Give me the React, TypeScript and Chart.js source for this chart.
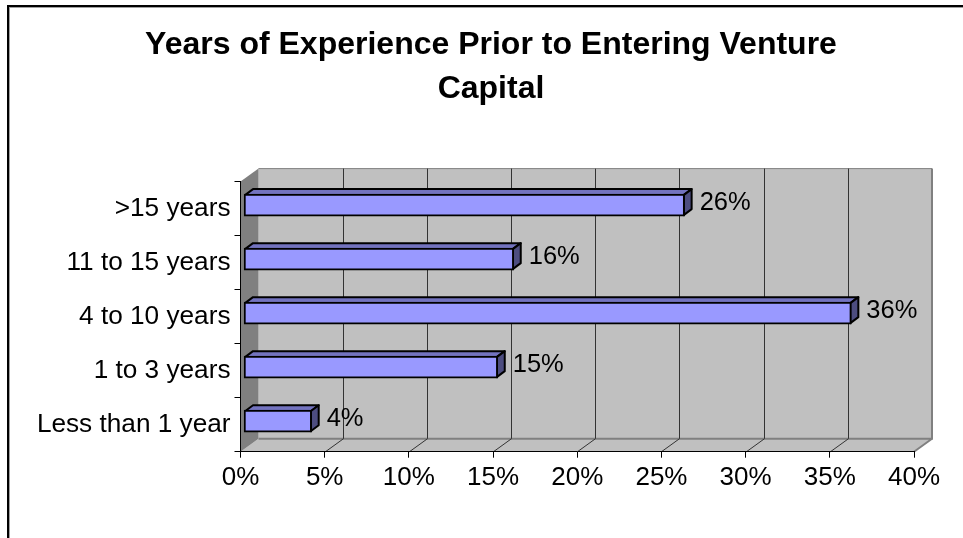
import React, { useEffect, useRef } from "react";
import { Chart, registerables } from "chart.js";

Chart.register(...registerables);

const categories = [">15 years", "11 to 15 years", "4 to 10 years", "1 to 3 years", "Less than 1 year"];
const shareValues = [26.2, 16.05, 36.1, 15.1, 4.05];
const titleLines = ["Years of Experience Prior to Entering Venture", "Capital"];

const FONT = "'Liberation Sans', Arial, sans-serif";
const wall = { dx: 18, dy: 13 };
const bar = { shiftX: 3, shiftY: -3.5, dx: 8, dy: 6 };

const framePlugin = {
  id: "frame3d",
  beforeDraw(chart: any) {
    const { ctx, chartArea: a, scales } = chart;
    const { dx, dy } = wall;
    ctx.save();
    ctx.fillStyle = "#A0A0A0";
    ctx.fillRect(9, 7, chart.width - 9, 1);
    ctx.fillRect(9, 7, 1, chart.height - 7);
    ctx.fillStyle = "#000";
    ctx.fillRect(7, 5, chart.width - 7, 2);
    ctx.fillRect(7, 5, 2, chart.height - 5);

    ctx.fillStyle = "#C0C0C0";
    ctx.fillRect(a.left + dx, a.top - dy, a.width, a.height);
    ctx.beginPath();
    ctx.moveTo(a.left, a.bottom);
    ctx.lineTo(a.left + dx, a.bottom - dy);
    ctx.lineTo(a.right + dx, a.bottom - dy);
    ctx.lineTo(a.right, a.bottom);
    ctx.closePath();
    ctx.fill();

    ctx.fillStyle = "#808080";
    ctx.beginPath();
    ctx.moveTo(a.left, a.top);
    ctx.lineTo(a.left + dx, a.top - dy);
    ctx.lineTo(a.left + dx, a.bottom - dy);
    ctx.lineTo(a.left, a.bottom);
    ctx.closePath();
    ctx.fill();

    ctx.strokeStyle = "#808080";
    ctx.lineWidth = 2;
    ctx.beginPath();
    ctx.moveTo(a.left + dx, a.bottom - dy);
    ctx.lineTo(a.right + dx, a.bottom - dy);
    ctx.lineTo(a.right + dx, a.top - dy);
    ctx.moveTo(a.right + dx, a.bottom - dy);
    ctx.lineTo(a.right, a.bottom);
    ctx.stroke();
    ctx.lineWidth = 1;
    ctx.beginPath();
    ctx.moveTo(a.left + dx, a.top - dy);
    ctx.lineTo(a.right + dx, a.top - dy);
    ctx.stroke();

    const x = scales.x;
    ctx.strokeStyle = "#333";
    ctx.lineWidth = 1;
    x.ticks.forEach((t: any) => {
      if (t.value <= x.min || t.value >= x.max) return;
      const px = Math.round(x.getPixelForValue(t.value)) + 0.5;
      ctx.beginPath();
      ctx.moveTo(px + dx, a.top - dy);
      ctx.lineTo(px + dx, a.bottom - dy);
      ctx.lineTo(px, a.bottom);
      ctx.stroke();
    });
    ctx.restore();
  },
  beforeDatasetDraw(chart: any) {
    const { ctx } = chart;
    ctx.save();
    ctx.translate(bar.shiftX, bar.shiftY);
    chart.getDatasetMeta(0).data.forEach((el: any) => {
      const h = el.height / 2;
      const l = el.base;
      const r = el.x;
      const t = el.y - h;
      const b = el.y + h;
      ctx.lineWidth = 2;
      ctx.lineJoin = "round";
      ctx.strokeStyle = "#000";
      ctx.fillStyle = "#7373BF";
      ctx.beginPath();
      ctx.moveTo(l + 1, t + 1);
      ctx.lineTo(l + 1 + bar.dx, t + 1 - bar.dy);
      ctx.lineTo(r - 1 + bar.dx, t + 1 - bar.dy);
      ctx.lineTo(r - 1, t + 1);
      ctx.closePath();
      ctx.fill();
      ctx.stroke();
      ctx.fillStyle = "#4D4D80";
      ctx.beginPath();
      ctx.moveTo(r - 1, t + 1);
      ctx.lineTo(r - 1 + bar.dx, t + 1 - bar.dy);
      ctx.lineTo(r - 1 + bar.dx, b - 1 - bar.dy);
      ctx.lineTo(r - 1, b - 1);
      ctx.closePath();
      ctx.fill();
      ctx.stroke();
    });
    ctx.restore();
    ctx.save();
    ctx.translate(bar.shiftX, bar.shiftY);
  },
  afterDatasetDraw(chart: any) {
    const { ctx } = chart;
    ctx.restore();
    ctx.save();
    ctx.font = `25.5px ${FONT}`;
    ctx.fillStyle = "#000";
    ctx.textAlign = "left";
    ctx.textBaseline = "middle";
    chart.getDatasetMeta(0).data.forEach((el: any, i: number) => {
      const v = chart.data.datasets[0].data[i];
      ctx.fillText(`${Math.round(v)}%`, el.x + bar.shiftX + bar.dx + 7, el.y + bar.shiftY - 2);
    });
    ctx.restore();
  },
};

export default function App() {
  const ref = useRef<HTMLCanvasElement>(null);
  useEffect(() => {
    const chart = new Chart(ref.current!, {
      type: "bar",
      data: {
        labels: categories,
        datasets: [
          {
            data: shareValues,
            backgroundColor: "#9999FF",
            borderColor: "#000",
            borderWidth: 2,
            borderSkipped: false,
            barThickness: 22,
            xAxisID: "x",
            yAxisID: "y",
          },
        ],
      },
      options: {
        indexAxis: "y",
        animation: false,
        responsive: false,
        layout: { padding: { left: 19, right: 0, top: 0, bottom: 0 } },
        plugins: {
          legend: { display: false },
          tooltip: { enabled: false },
          title: {
            display: true,
            text: titleLines,
            color: "#000",
            font: { family: FONT, size: 32, weight: "bold", lineHeight: 44 / 32 },
            padding: { top: 23, bottom: 70.6 },
          },
        },
        scales: {
          x: {
            min: 0,
            max: 40,
            ticks: {
              stepSize: 5,
              color: "#000",
              font: { family: FONT, size: 26 },
              padding: 5,
              maxRotation: 0,
              autoSkip: false,
              callback: (v: any) => `${v}%`,
            },
            grid: { drawOnChartArea: false, drawTicks: true, tickLength: 6, color: "#000", lineWidth: 1 },
            border: { color: "#000", width: 1 },
            afterFit: (s: any) => {
              s.height = 86.3;
            },
          },
          y: {
            ticks: {
              color: "#000",
              font: { family: FONT, size: 26.2 },
              padding: 4,
              autoSkip: false,
            },
            grid: { offset: true, drawOnChartArea: false, drawTicks: true, tickLength: 6, color: "#000", lineWidth: 1 },
            border: { color: "#000", width: 1 },
            afterFit: (s: any) => {
              s.width = 221.5;
            },
          },
          rightGutter: {
            type: "linear",
            axis: "y",
            position: "right",
            ticks: { display: false },
            grid: { display: false },
            border: { display: false },
            afterFit: (s: any) => {
              s.width = 49;
            },
          },
        },
      },
      plugins: [framePlugin],
    } as any);
    return () => chart.destroy();
  }, []);
  return (
    <div style={{ position: "absolute", left: 0, top: 0, width: 963, height: 538, overflow: "hidden", background: "#fff" }}>
      <canvas ref={ref} width={963} height={538} style={{ display: "block" }} />
    </div>
  );
}
